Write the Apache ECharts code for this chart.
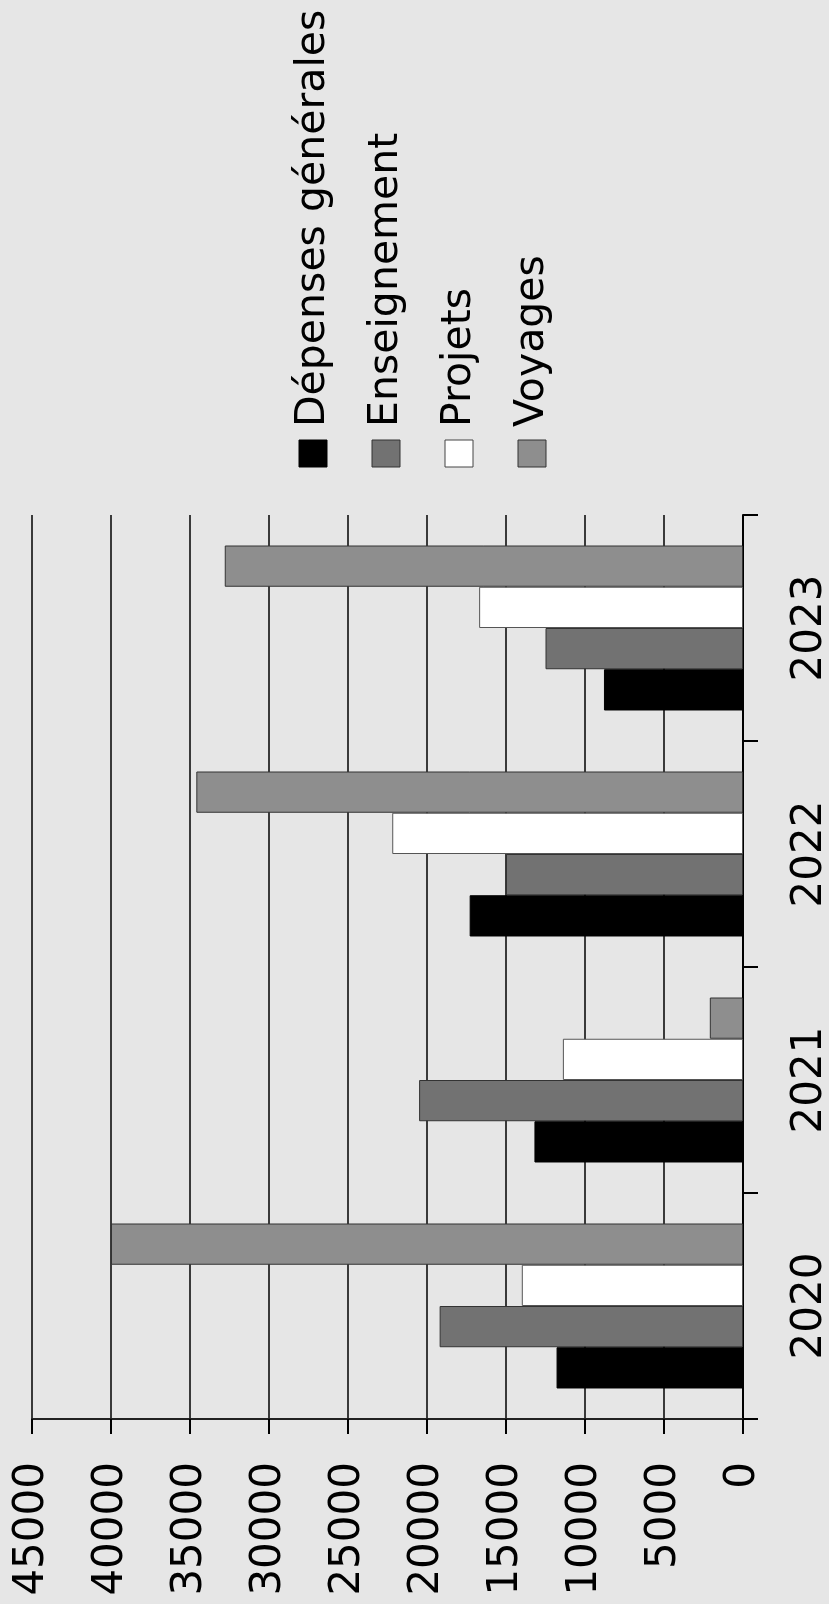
<!DOCTYPE html>
<html>
<head>
<meta charset="utf-8">
<script src="https://cdn.jsdelivr.net/npm/echarts@6/dist/echarts.min.js"></script>
<style>
html,body{margin:0;padding:0;background:#e6e6e6;}
#c{width:829px;height:1604px;}
</style>
</head>
<body>
<div id="c"></div>
<script>
const categories = ['2020', '2021', '2022', '2023'];
const seriesNames = ['Dépenses générales', 'Enseignement', 'Projets', 'Voyages'];
const depenses = [11800, 13200, 17300, 8800];
const enseignement = [19200, 20500, 15000, 12500];
const projets = [14000, 11400, 22200, 16700];
const voyages = [40000, 2100, 34600, 32800];
const valueMin = 0, valueMax = 45000, valueStep = 5000;

const colors = ['#000000', '#727272', '#ffffff', '#8e8e8e'];
const borders = ['#000000', '#333333', '#555555', '#333333'];
const dataBySeries = [depenses, enseignement, projets, voyages];

const chart = echarts.init(document.getElementById('c'));
const labelFont = '"DejaVu Sans"';

// legend drawn as rotated graphic items
const legendX = [299, 372, 445, 518];
const graphic = [];
seriesNames.forEach((name, i) => {
  graphic.push({
    type: 'rect', shape: {x: legendX[i], y: 440, width: 28, height: 27},
    style: {fill: colors[i], stroke: i === 2 ? '#444' : borders[i], lineWidth: 1}
  });
  graphic.push({
    type: 'text', x: legendX[i] + 14, y: 427, rotation: Math.PI / 2,
    style: {text: name, font: '41px "DejaVu Sans"', fill: '#000',
      textAlign: 'left', textVerticalAlign: 'middle', align: 'left', verticalAlign: 'middle'}
  });
});

// ECharts stacks horizontal bars top-down, so list series from top to bottom
const order = [3, 2, 1, 0];
const series = order.map(i => ({
  name: seriesNames[i], type: 'bar', data: dataBySeries[i],
  barGap: '0%', barCategoryGap: '27%',
  itemStyle: {color: colors[i], borderColor: borders[i], borderWidth: 1}
}));

chart.setOption({
  backgroundColor: '#e6e6e6',
  animation: false,
  grid: {left: 32, right: 86, top: 515, bottom: 185, containLabel: false, outerBoundsMode: 'none'},
  xAxis: {
    type: 'value', inverse: true, position: 'bottom',
    min: valueMin, max: valueMax, interval: valueStep,
    axisLine: {show: true, lineStyle: {color: '#222', width: 2}},
    axisTick: {show: true, length: 15, lineStyle: {color: '#000', width: 2}},
    splitLine: {show: true, lineStyle: {color: '#000', width: 1.5}},
    axisLabel: {rotate: 90, margin: 43, fontSize: 42, fontFamily: labelFont, color: '#000',
      formatter: v => String(v)}
  },
  yAxis: {
    type: 'category', data: categories, position: 'right',
    axisLine: {show: true, lineStyle: {color: '#000', width: 2}},
    axisTick: {show: true, length: 15, lineStyle: {color: '#000', width: 2}},
    axisLabel: {rotate: 90, margin: 46, fontSize: 42, fontFamily: labelFont, color: '#000'}
  },
  graphic: graphic,
  series: series
});
</script>
</body>
</html>
